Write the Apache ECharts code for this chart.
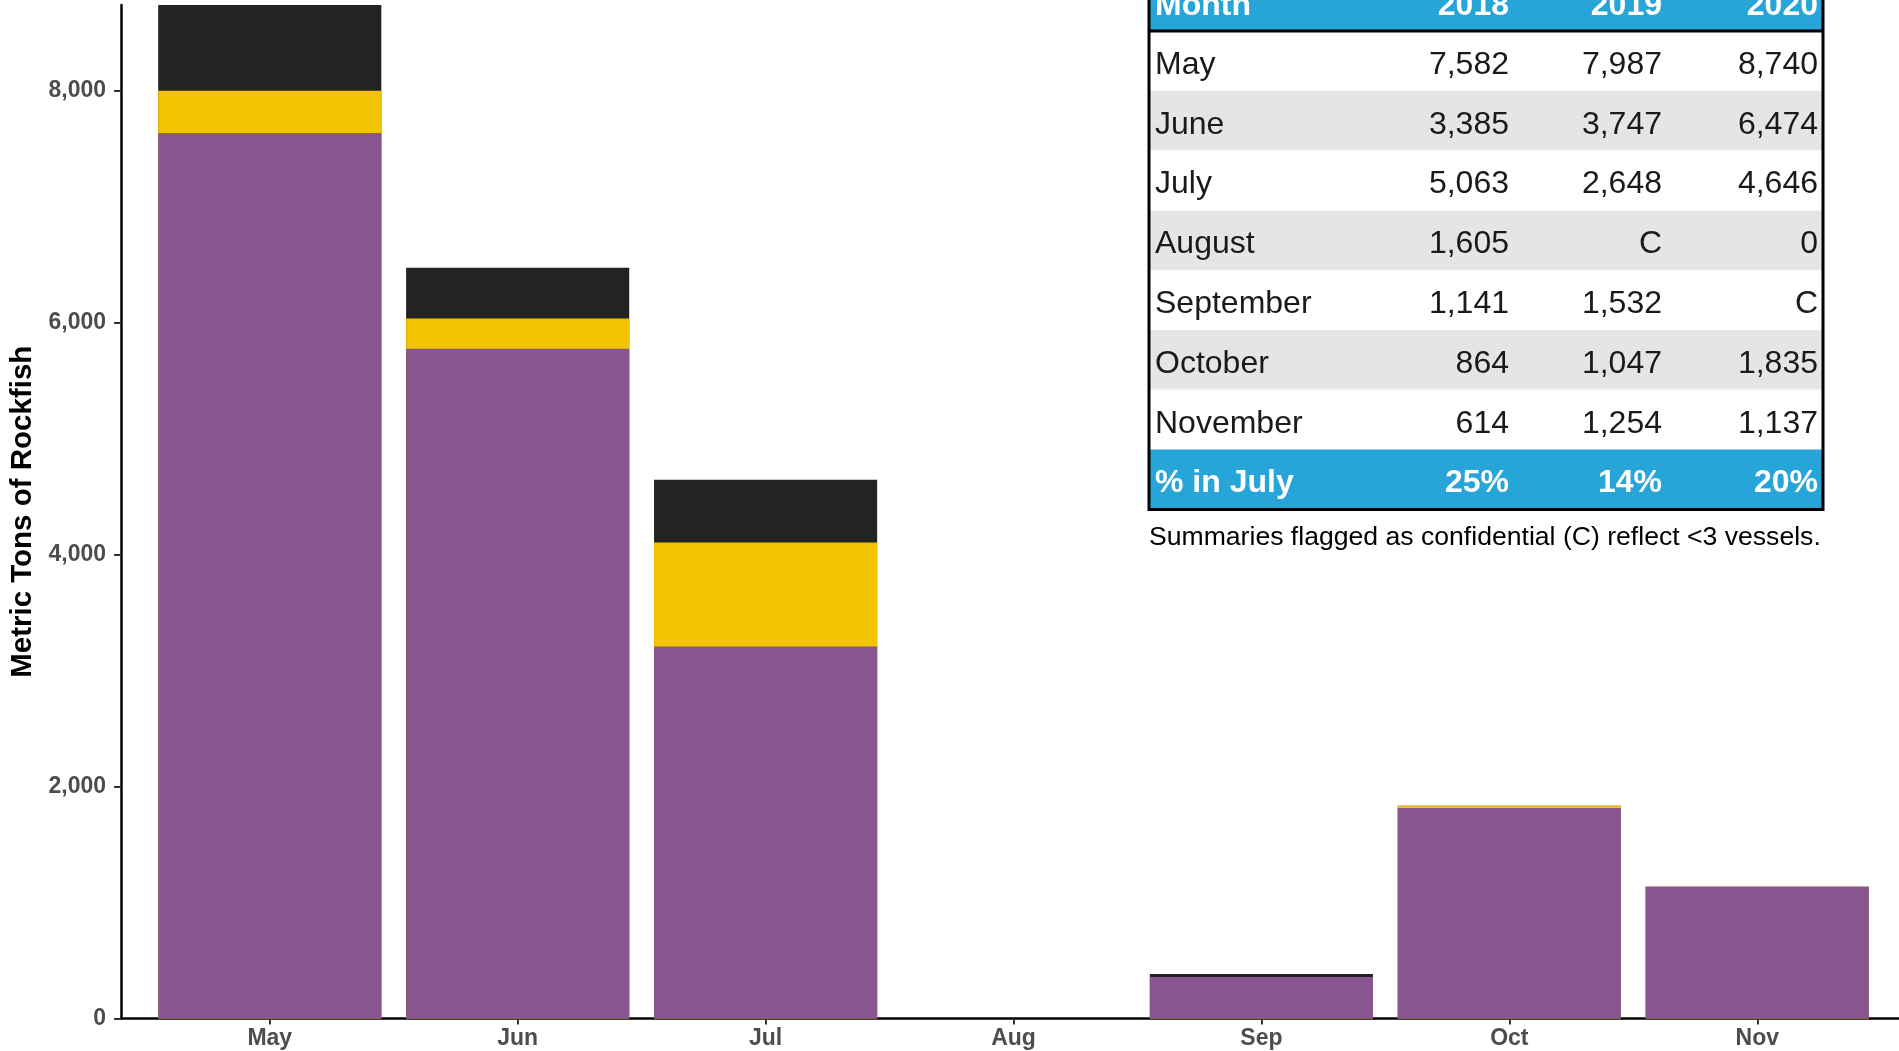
<!DOCTYPE html>
<html>
<head>
<meta charset="utf-8">
<script src="https://cdn.jsdelivr.net/npm/echarts@6/dist/echarts.min.js"></script>
<style>
html, body { margin: 0; padding: 0; background: #fff; overflow: hidden; }
#chart { width: 1920px; height: 1051px; }
</style>
</head>
<body>
<div id="chart"></div>
<script>
// bar data (metric tons, 2020)
var months = ['May', 'Jun', 'Jul', 'Aug', 'Sep', 'Oct', 'Nov'];
var purpleVals = [7637, 5776, 3207, 0, 358, 1815, 1137];
var yellowVals = [363, 261, 898, 0, 0, 20, 0];
var blackVals = [740, 437, 541, 0, 26, 0, 0];
var yTicks = [0, 2000, 4000, 6000, 8000];
var yMax = 8740;

// summary table
var tableHeader = ['Month', '2018', '2019', '2020'];
var tableMonths = ['May', 'June', 'July', 'August', 'September', 'October', 'November'];
var t2018 = ['7,582', '3,385', '5,063', '1,605', '1,141', '864', '614'];
var t2019 = ['7,987', '3,747', '2,648', 'C', '1,532', '1,047', '1,254'];
var t2020 = ['8,740', '6,474', '4,646', '0', 'C', '1,835', '1,137'];
var pctLabel = '% in July';
var pctJuly = ['25%', '14%', '20%'];
var footnote = 'Summaries flagged as confidential (C) reflect <3 vessels.';

var FONT = '"Liberation Sans", Arial, sans-serif';
var xPos = months.map(function (m, i) { return i + 1; });

// segments are drawn as overlapping cumulative bars (top segment drawn first)
function cum(lists) {
    return xPos.map(function (x, i) {
        var s = 0;
        lists.forEach(function (l) { s += l[i]; });
        return [x, s];
    });
}

var gridLeft = 121;
var gridWidth = 1785;
var barW = gridWidth / 7.2 * 0.9;

// table layout
var tl = 1149, tr = 1823, headBottom = 31, rowH = 59.8, dy = 4;
var colRight = [1509, 1662, 1818];
var blue = '#27a4d8';
var bodyFont = '32px ' + FONT, boldFont = 'bold 32px ' + FONT;
var els = [];

els.push({ type: 'rect', shape: { x: tl, y: -40, width: tr - tl, height: headBottom + 40 }, style: { fill: blue } });
tableMonths.forEach(function (m, i) {
    var top = headBottom + i * rowH;
    els.push({ type: 'rect', shape: { x: tl, y: top, width: tr - tl, height: rowH }, style: { fill: i % 2 ? '#e5e5e5' : '#ffffff' } });
    var cy = top + rowH / 2 + dy;
    els.push({ type: 'text', style: { text: m, x: 1155, y: cy, fill: '#1a1a1a', font: bodyFont, textAlign: 'left', textVerticalAlign: 'middle' } });
    [t2018[i], t2019[i], t2020[i]].forEach(function (v, j) {
        els.push({ type: 'text', style: { text: v, x: colRight[j], y: cy, fill: '#1a1a1a', font: bodyFont, textAlign: 'right', textVerticalAlign: 'middle' } });
    });
});
var pctTop = headBottom + tableMonths.length * rowH;
var pcy = pctTop + rowH / 2 + dy;
els.push({ type: 'rect', shape: { x: tl, y: pctTop, width: tr - tl, height: rowH }, style: { fill: blue } });
els.push({ type: 'text', style: { text: pctLabel, x: 1155, y: pcy, fill: '#fff', font: boldFont, textAlign: 'left', textVerticalAlign: 'middle' } });
pctJuly.forEach(function (v, j) {
    els.push({ type: 'text', style: { text: v, x: colRight[j], y: pcy, fill: '#fff', font: boldFont, textAlign: 'right', textVerticalAlign: 'middle' } });
});
els.push({ type: 'text', style: { text: tableHeader[0], x: 1155, y: 6, fill: '#fff', font: boldFont, textAlign: 'left', textVerticalAlign: 'middle' } });
tableHeader.slice(1).forEach(function (h, j) {
    els.push({ type: 'text', style: { text: h, x: colRight[j], y: 6, fill: '#fff', font: boldFont, textAlign: 'right', textVerticalAlign: 'middle' } });
});
// borders
els.push({ type: 'line', shape: { x1: tl, y1: headBottom, x2: tr, y2: headBottom }, style: { stroke: '#000', lineWidth: 3 } });
els.push({ type: 'rect', shape: { x: tl, y: -40, width: tr - tl, height: pctTop + rowH + 40 }, style: { fill: null, stroke: '#000', lineWidth: 3 } });
els.push({ type: 'text', style: { text: footnote, x: 1149, y: 538, fill: '#000', font: '26.6px ' + FONT, textAlign: 'left', textVerticalAlign: 'middle' } });

var chart = echarts.init(document.getElementById('chart'));
var option = {
    animation: false,
    grid: { left: gridLeft, top: 5, width: gridWidth, bottom: 32.5, outerBoundsMode: 'none', containLabel: false },
    xAxis: {
        type: 'value',
        min: 0.4,
        max: 7.6,
        axisLine: { lineStyle: { color: '#000', width: 2.5 } },
        axisTick: { customValues: xPos, length: 6, lineStyle: { color: '#333', width: 2 } },
        axisLabel: {
            customValues: xPos,
            formatter: function (v) { return months[Math.round(v) - 1]; },
            color: '#4d4d4d', fontWeight: 'bold', fontSize: 23, fontFamily: FONT, margin: 9
        },
        splitLine: { show: false }
    },
    yAxis: {
        type: 'value',
        min: 0,
        max: yMax,
        name: 'Metric Tons of Rockfish',
        nameLocation: 'middle',
        nameGap: 82,
        nameTextStyle: { color: '#000', fontWeight: 'bold', fontSize: 29.5, fontFamily: FONT },
        axisLine: { show: true, lineStyle: { color: '#000', width: 2.5 } },
        axisTick: { show: true, customValues: yTicks, length: 7, lineStyle: { color: '#333', width: 2 } },
        axisLabel: {
            customValues: yTicks,
            formatter: function (v) { return v.toLocaleString('en-US'); },
            color: '#4d4d4d', fontWeight: 'bold', fontSize: 23, fontFamily: FONT, margin: 15
        },
        splitLine: { show: false }
    },
    series: [
        { type: 'bar', barGap: '-100%', barWidth: barW, data: cum([purpleVals, yellowVals, blackVals]), itemStyle: { color: '#232323' } },
        { type: 'bar', barGap: '-100%', barWidth: barW, data: cum([purpleVals, yellowVals]), itemStyle: { color: '#f2c300' } },
        { type: 'bar', barGap: '-100%', barWidth: barW, data: cum([purpleVals]), itemStyle: { color: '#87558f' } }
    ],
    graphic: { elements: els }
};
chart.setOption(option);
</script>
</body>
</html>
